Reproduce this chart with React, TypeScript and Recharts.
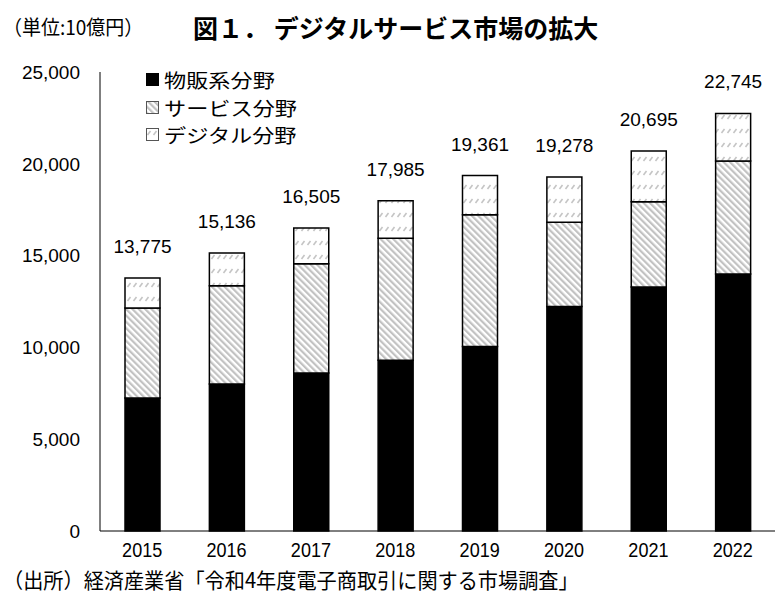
import React from "react";
import { BarChart, Bar, XAxis, YAxis, LabelList } from "recharts";

// 単位: 10億円
const years = ["2015", "2016", "2017", "2018", "2019", "2020", "2021", "2022"];
const goods = [7240, 8004, 8601, 9299, 10052, 12233, 13287, 14000];
const services = [4901, 5353, 5957, 6647, 7167, 4583, 4642, 6148];
const digital = [1634, 1779, 1947, 2039, 2142, 2462, 2766, 2597];
const yTicks = [0, 5000, 10000, 15000, 20000, 25000];

const seriesNames = ["物販系分野", "サービス分野", "デジタル分野"];

const data = years.map((year, i) => ({
  year,
  goods: goods[i],
  services: services[i],
  digital: digital[i],
  total: goods[i] + services[i] + digital[i],
}));

const fmt = (v: number) => v.toLocaleString("en-US");

const W = 781;
const H = 599;

const YearTick = (props: any) => {
  const { x, y, payload } = props;
  return (
    <text
      x={0}
      y={0}
      dy="0.71em"
      transform={`translate(${x},${y}) scale(0.86,1)`}
      textAnchor="middle"
      fontSize={21}
      fontFamily="'Liberation Sans', Arial, sans-serif"
      fill="#000"
    >
      {payload.value}
    </text>
  );
};

const swatchFill = ["#000", "url(#svcPat)", "url(#digPat)"];

// legend sits inside the plot, top-left; glyphs are a little wide, so stretch them
function SeriesLegend() {
  return (
    <div
      style={{
        position: "absolute",
        left: 146,
        top: 66,
        fontFamily: "'Noto Sans CJK JP', sans-serif",
        fontSize: 18.8,
        color: "#000",
      }}
    >
      {seriesNames.map((name, i) => (
        <div key={name} style={{ display: "flex", alignItems: "center", height: 27.5 }}>
          <svg width={13} height={13} style={{ marginRight: 5 }}>
            <rect
              x={0.5}
              y={0.5}
              width={12}
              height={12}
              fill={swatchFill[i]}
              stroke={i === 0 ? "#000" : "#555"}
              strokeWidth={1}
            />
          </svg>
          <span
            style={{
              lineHeight: "19px",
              whiteSpace: "nowrap",
              transform: "scaleX(1.18)",
              transformOrigin: "left center",
            }}
          >
            {name}
          </span>
        </div>
      ))}
    </div>
  );
}

export default function App() {
  return (
    <div
      style={{
        position: "absolute",
        left: 0,
        top: 0,
        width: W,
        height: H,
        background: "#fff",
        overflow: "hidden",
      }}
    >
      <div
        style={{
          position: "absolute",
          left: 3,
          top: 17,
          fontFamily: "'Noto Sans CJK JP', sans-serif",
          fontSize: 20,
          lineHeight: "20px",
          whiteSpace: "nowrap",
          transform: "scaleX(0.95)",
          transformOrigin: "left center",
        }}
      >
        （単位:10億円）
      </div>
      <div
        style={{
          position: "absolute",
          left: 193,
          top: 15,
          fontFamily: "'Noto Sans CJK JP', sans-serif",
          fontWeight: 700,
          fontSize: 25,
          lineHeight: "25px",
          whiteSpace: "nowrap",
        }}
      >
        図１． デジタルサービス市場の拡大
      </div>

      <BarChart
        width={W}
        height={H}
        data={data}
        margin={{ top: 72, right: 6, bottom: 38, left: 20 }}
        barSize={35}
      >
        <defs>
          <pattern id="svcPat" patternUnits="userSpaceOnUse" width={4.5} height={4.5} patternTransform="rotate(-45)">
            <rect width={4.5} height={4.5} fill="#fff" />
            <rect width={2.2} height={4.5} fill="#c2c2c2" />
          </pattern>
          <pattern id="digPat" patternUnits="userSpaceOnUse" width={6} height={14}>
            <rect width={6} height={14} fill="#fff" />
            <path d="M1.5 7 L4.5 3" stroke="#c4c4c4" strokeWidth={1.6} />
          </pattern>
        </defs>
        <XAxis
          dataKey="year"
          axisLine={{ stroke: "#000", strokeWidth: 1 }}
          tickLine={false}
          tickSize={0}
          tickMargin={11}
          tick={<YearTick />}
          height={30}
        />
        <YAxis
          domain={[0, 25000]}
          ticks={yTicks}
          tickFormatter={fmt}
          axisLine={{ stroke: "#000", strokeWidth: 1 }}
          tickLine={false}
          tickSize={0}
          tickMargin={20}
          width={80}
          tick={{ fill: "#000", fontSize: 19, fontFamily: "'Liberation Sans', Arial, sans-serif" }}
        />
        <Bar dataKey="goods" name={seriesNames[0]} stackId="a" fill="#000" stroke="#000" strokeWidth={1.5} isAnimationActive={false} />
        <Bar dataKey="services" name={seriesNames[1]} stackId="a" fill="url(#svcPat)" stroke="#000" strokeWidth={1.5} isAnimationActive={false} />
        <Bar dataKey="digital" name={seriesNames[2]} stackId="a" fill="url(#digPat)" stroke="#000" strokeWidth={1.5} isAnimationActive={false}>
          <LabelList
            dataKey="total"
            position="top"
            offset={25}
            formatter={(v: any) => fmt(Number(v))}
            style={{ fill: "#000", fontSize: 19, fontFamily: "'Liberation Sans', Arial, sans-serif" }}
          />
        </Bar>
      </BarChart>

      <SeriesLegend />

      <div
        style={{
          position: "absolute",
          left: 3,
          top: 569,
          fontFamily: "'Noto Sans CJK JP', sans-serif",
          fontSize: 21,
          lineHeight: "21px",
          whiteSpace: "nowrap",
          transform: "scaleX(0.96)",
          transformOrigin: "left center",
        }}
      >
        （出所）経済産業省「令和4年度電子商取引に関する市場調査」
      </div>
    </div>
  );
}
